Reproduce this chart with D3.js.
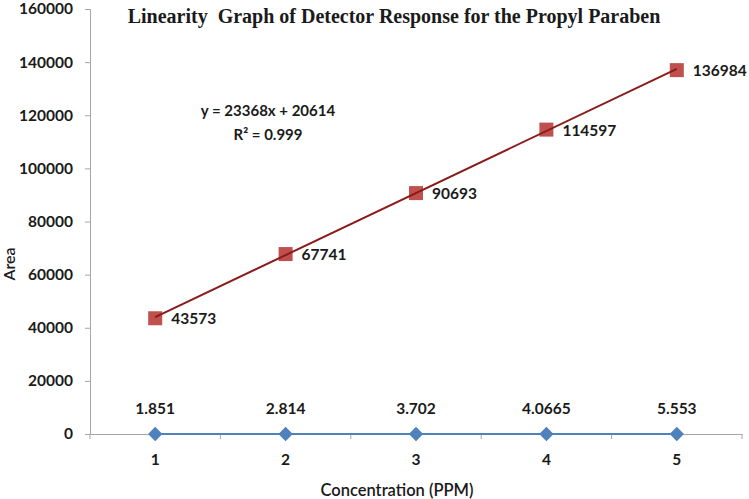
<!DOCTYPE html>
<html><head><meta charset="utf-8">
<script src="https://cdn.jsdelivr.net/npm/d3@7"></script>
<style>body{margin:0;background:#fff}svg{display:block}text{font-family:Lato,"Open Sans",sans-serif}</style>
</head><body><svg id="c" width="749" height="499"></svg>
<script>
const categories = [1, 2, 3, 4, 5];
const areaValues = [43573, 67741, 90693, 114597, 136984];
const concValues = [0, 0, 0, 0, 0];
const concLabels = ["1.851", "2.814", "3.702", "4.0665", "5.553"];
const yTicks = [0, 20000, 40000, 60000, 80000, 100000, 120000, 140000, 160000];
const slope = 23368, intercept = 20614;
const eqText = "y = 23368x + 20614";
const r2Text = "R² = 0.999";
const title = "Linearity  Graph of Detector Response for the Propyl Paraben";

(function () {
const svg = d3.select("#c");
const mL = 90, mR = 742, mT = 9, mB = 434;
const x = d3.scaleBand().domain(categories).range([mL, mR]);
const cx = d => x(d) + x.bandwidth() / 2;
const y = d3.scaleLinear().domain([0, 160000]).range([mB, mT]);

// y axis
const ya = svg.append("g").attr("transform", `translate(${mL},0)`)
  .call(d3.axisLeft(y).tickValues(yTicks).tickSize(5).tickPadding(12).tickFormat(d3.format("d")));
ya.select(".domain").attr("stroke", "#a6a6a6");
ya.selectAll(".tick line").attr("stroke", "#a6a6a6");
ya.selectAll("text").attr("font-size", 15.5).attr("font-weight", 700).attr("fill", "#1a1a1a");

// x axis
const xa = svg.append("g").attr("transform", `translate(0,${mB})`)
  .call(d3.axisBottom(x).tickSize(0).tickPadding(20));
xa.select(".domain").attr("stroke", "#a6a6a6");
xa.selectAll("text").attr("font-size", 15.5).attr("font-weight", 700).attr("fill", "#1a1a1a");
const bounds = categories.map(c => x(c)).concat([mR]);
svg.append("g").selectAll("line").data(bounds).join("line")
  .attr("x1", d => d).attr("x2", d => d).attr("y1", mB).attr("y2", mB + 5)
  .attr("stroke", "#a6a6a6");

// blue series
const blue = "#4f81bd";
svg.append("path").datum(categories.map((c, i) => [cx(c), y(concValues[i])]))
  .attr("d", d3.line()).attr("fill", "none").attr("stroke", blue).attr("stroke-width", 2.2);
svg.append("g").selectAll("path").data(categories).join("path")
  .attr("d", d3.symbol(d3.symbolDiamond2, 130)()).attr("fill", blue)
  .attr("transform", (c, i) => `translate(${cx(c)},${y(concValues[i])})`);
svg.append("g").selectAll("text").data(categories).join("text")
  .attr("x", c => cx(c)).attr("y", (c, i) => y(concValues[i]) - 20)
  .attr("text-anchor", "middle").attr("font-size", 15.5).attr("font-weight", 700).attr("fill", "#1a1a1a")
  .text((c, i) => concLabels[i]);

// red series markers
const red = "#c0504d";
svg.append("g").selectAll("rect").data(categories).join("rect")
  .attr("x", c => cx(c) - 7).attr("y", (c, i) => y(areaValues[i]) - 7)
  .attr("width", 14).attr("height", 14).attr("fill", red);
// trendline
const xl = d3.scaleLinear().domain([1, 5]).range([cx(1), cx(5)]);
svg.append("line")
  .attr("x1", xl(1)).attr("y1", y(slope * 1 + intercept))
  .attr("x2", xl(5)).attr("y2", y(slope * 5 + intercept))
  .attr("stroke", "#8b1a1a").attr("stroke-width", 2);
svg.append("g").selectAll("text").data(categories).join("text")
  .attr("x", c => cx(c) + 16).attr("y", (c, i) => y(areaValues[i]) + 6)
  .attr("font-size", 15.5).attr("font-weight", 700).attr("fill", "#1a1a1a")
  .text((c, i) => areaValues[i]);

// equation
svg.append("text").attr("x", 268).attr("y", 116).attr("text-anchor", "middle")
  .attr("font-size", 15).attr("font-weight", 700).attr("fill", "#1a1a1a").text(eqText);
svg.append("text").attr("x", 268).attr("y", 140).attr("text-anchor", "middle")
  .attr("font-size", 15).attr("font-weight", 700).attr("fill", "#1a1a1a").text(r2Text);

// title
svg.append("text").attr("x", 394).attr("y", 23).attr("text-anchor", "middle")
  .style("font-family", "'Liberation Serif','Times New Roman',serif")
  .style("white-space", "pre")
  .attr("font-size", 20).attr("font-weight", 700).attr("fill", "#1a1a1a").text(title);

// axis titles
svg.append("text").attr("x", 397).attr("y", 496).attr("text-anchor", "middle")
  .attr("font-size", 16.5).attr("font-weight", 600).attr("fill", "#1a1a1a").text("Concentration (PPM)");
svg.append("text").attr("transform", "translate(15,264) rotate(-90)").attr("text-anchor", "middle")
  .attr("font-size", 16).attr("font-weight", 600).attr("fill", "#1a1a1a").text("Area");
})();
</script></body></html>
